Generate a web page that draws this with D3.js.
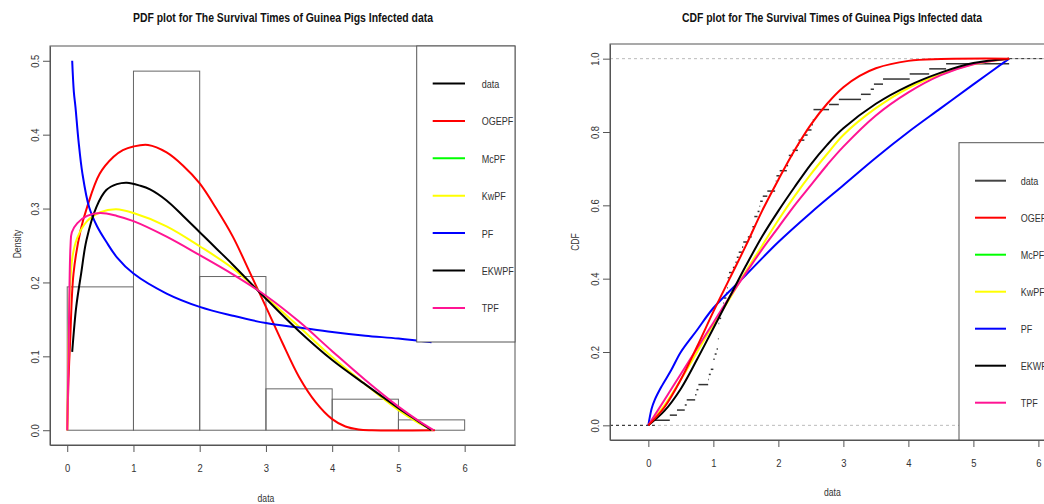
<!DOCTYPE html>
<html><head><meta charset="utf-8">
<script src="https://cdn.jsdelivr.net/npm/d3@7"></script>
<style>
body{margin:0;background:#fff;}
text{font-family:"Liberation Sans",Arial,sans-serif;}
</style></head>
<body><svg id="c" width="1044" height="504"></svg>
<script>
// ---------- data ----------
const titlePDF = "PDF plot for The Survival Times of Guinea Pigs Infected data";
const titleCDF = "CDF plot for The Survival Times of Guinea Pigs Infected data";
const legendNames = ["data","OGEPF","McPF","KwPF","PF","EKWPF","TPF"];
const legendColors = ["#000000","#ff0000","#00ff00","#ffff00","#0000ff","#000000","#ff1493"];
const xTicks = [0,1,2,3,4,5,6];
const yTicksPDF = [0,0.1,0.2,0.3,0.4,0.5];
const yTicksCDF = [0,0.2,0.4,0.6,0.8,1.0];

const histBreaks = [0,1,2,3,4,5,6];
const histDensity = [0.194,0.486,0.208,0.056,0.042,0.014];

// PDF curves [x, density]
const pdfOGEPF = [[0,0],[0.02,0.07],[0.045,0.122],[0.095,0.212],[0.2,0.27],[0.3,0.302],[0.49,0.347],[0.7,0.37],[0.84,0.379],[1.0,0.384],[1.22,0.386],[1.5,0.376],[1.75,0.358],[2.0,0.334],[2.25,0.30],[2.5,0.262],[2.75,0.215],[3.0,0.167],[3.25,0.118],[3.5,0.072],[3.75,0.038],[4.0,0.015],[4.2,0.005],[4.4,0.001],[4.6,0],[5.55,0]];
const pdfKwPF = [[0,0],[0.02,0.12],[0.04,0.19],[0.08,0.235],[0.15,0.26],[0.3,0.283],[0.5,0.295],[0.74,0.299],[1.0,0.294],[1.5,0.276],[2.0,0.249],[2.5,0.219],[3.0,0.18],[3.5,0.14],[4.0,0.099],[4.5,0.062],[5.0,0.027],[5.3,0.01],[5.52,0]];
const pdfPF = [[0.075,0.50],[0.1,0.458],[0.125,0.437],[0.17,0.392],[0.23,0.347],[0.33,0.302],[0.45,0.276],[0.59,0.255],[0.75,0.234],[1.0,0.212],[1.5,0.185],[2.0,0.167],[2.5,0.155],[3.0,0.145],[3.5,0.139],[4.0,0.133],[4.5,0.128],[5.0,0.124],[5.5,0.119]];
const pdfEKWPF = [[0.075,0.106],[0.136,0.167],[0.21,0.212],[0.29,0.257],[0.44,0.302],[0.59,0.325],[0.75,0.333],[0.9,0.335],[1.1,0.331],[1.25,0.326],[1.5,0.311],[1.75,0.29],[2.0,0.268],[2.25,0.246],[2.5,0.224],[3.0,0.178],[3.5,0.134],[4.0,0.095],[4.5,0.062],[5.0,0.030],[5.3,0.012],[5.5,0.0]];
const pdfTPF = [[0,0],[0.02,0.1],[0.05,0.25],[0.07,0.268],[0.15,0.28],[0.3,0.29],[0.5,0.294],[0.75,0.29],[1.0,0.283],[1.5,0.262],[2.0,0.237],[2.5,0.211],[3.0,0.182],[3.5,0.147],[4.0,0.107],[4.5,0.068],[5.0,0.032],[5.3,0.013],[5.53,0]];

// survival times (ECDF steps)
const survival = [0.1,0.33,0.44,0.56,0.59,0.72,0.74,0.77,0.92,0.93,0.96,1,1,1.02,1.05,1.07,1.07,1.08,1.08,1.08,1.09,1.12,1.13,1.15,1.16,1.2,1.21,1.22,1.22,1.24,1.3,1.34,1.36,1.39,1.44,1.46,1.53,1.59,1.6,1.63,1.63,1.68,1.71,1.72,1.76,1.83,1.95,1.96,1.97,2.02,2.13,2.15,2.16,2.22,2.3,2.31,2.4,2.45,2.51,2.53,2.54,2.54,2.78,2.93,3.27,3.42,3.47,3.61,4.02,4.32,4.58,5.55];

// CDF curves [x, F]
const cdfOGEPF = [[0,0],[0.25,0.05],[0.5,0.125],[0.75,0.215],[1.0,0.31],[1.25,0.40],[1.5,0.49],[1.75,0.585],[2.0,0.67],[2.25,0.75],[2.5,0.82],[2.75,0.877],[3.0,0.922],[3.25,0.953],[3.5,0.974],[4.0,0.994],[4.5,0.999],[5.55,1]];
const cdfKwPF = [[0,0],[0.25,0.055],[0.5,0.125],[0.75,0.2],[1.0,0.275],[1.25,0.345],[1.5,0.42],[1.75,0.49],[2.0,0.56],[2.25,0.625],[2.5,0.685],[2.75,0.74],[3.0,0.792],[3.5,0.865],[4.0,0.92],[4.5,0.958],[5.0,0.985],[5.55,1]];
const cdfPF = [[0,0],[0.05,0.045],[0.1,0.07],[0.2,0.105],[0.35,0.15],[0.5,0.20],[0.75,0.26],[1.0,0.32],[1.5,0.41],[2.0,0.50],[2.5,0.58],[3.0,0.655],[3.5,0.73],[4.0,0.80],[4.5,0.865],[5.0,0.93],[5.55,1.0]];
const cdfEKWPF = [[0,0],[0.25,0.04],[0.5,0.1],[0.75,0.18],[1.0,0.265],[1.25,0.35],[1.5,0.435],[1.75,0.515],[2.0,0.585],[2.25,0.65],[2.5,0.712],[2.75,0.765],[3.0,0.81],[3.5,0.877],[4.0,0.926],[4.5,0.962],[5.0,0.988],[5.55,1]];
const cdfTPF = [[0,0],[0.25,0.07],[0.5,0.14],[0.75,0.21],[1.0,0.28],[1.25,0.35],[1.5,0.415],[1.75,0.48],[2.0,0.54],[2.25,0.6],[2.5,0.655],[2.75,0.71],[3.0,0.76],[3.5,0.845],[4.0,0.908],[4.5,0.955],[5.0,0.985],[5.55,1]];

// ---------- drawing ----------
const svg = d3.select("#c");
svg.append("rect").attr("width",1044).attr("height",504).attr("fill","#fff");
const frameCol = "#555";
const textCol = "#333";
const NARROW = 0.82;

function narrow(sel, k){
  sel.each(function(){
    const w = this.getComputedTextLength();
    if (w > 0) d3.select(this).attr("textLength", w*k).attr("lengthAdjust","spacingAndGlyphs");
  });
}

function axes(g, x, y, yTicks, yFmt, fr, labs){
  g.append("rect").attr("x",fr.l).attr("y",fr.t).attr("width",fr.r-fr.l).attr("height",fr.b-fr.t)
   .attr("fill","none").attr("stroke",frameCol).attr("stroke-width",1);
  const xa = d3.axisBottom(x).tickValues(xTicks).tickFormat(d3.format("d")).tickSize(7).tickSizeOuter(0).tickPadding(labs.xpad);
  const gx = g.append("g").attr("transform",`translate(0,${fr.b})`).call(xa);
  gx.select(".domain").attr("stroke",frameCol);
  gx.selectAll(".tick line").attr("stroke",frameCol);
  gx.selectAll("text").attr("font-size",11.5).attr("fill",textCol).attr("font-family",null);
  narrow(gx.selectAll("text"), NARROW);
  const ya = d3.axisLeft(y).tickValues(yTicks).tickFormat(yFmt).tickSize(7).tickSizeOuter(0).tickPadding(0);
  const gy = g.append("g").attr("transform",`translate(${fr.l},0)`).call(ya);
  gy.select(".domain").attr("stroke",frameCol);
  gy.selectAll(".tick line").attr("stroke",frameCol);
  gy.selectAll("text").attr("font-size",11.5).attr("fill",textCol).attr("font-family",null)
    .attr("x",null).attr("dy","0.35em")
    .attr("text-anchor","middle")
    .attr("transform",`translate(${-labs.ypad},0) rotate(-90)`);
  narrow(gy.selectAll("text"), NARROW);
  const t = g.append("text").attr("x",labs.titleX).attr("y",21.5)
   .attr("text-anchor","middle").attr("font-weight","bold").attr("font-size",12.5).attr("fill","#111").text(labs.title);
  t.attr("textLength",300).attr("lengthAdjust","spacingAndGlyphs");
  const xl = g.append("text").attr("x",labs.xlabX).attr("y",labs.xlabY).attr("text-anchor","middle")
   .attr("font-size",10.5).attr("fill",textCol).text("data");
  narrow(xl, NARROW);
  const yl = g.append("text").attr("transform",`translate(${labs.ylabX},${labs.ylabY}) rotate(-90)`)
   .attr("dy","0.35em").attr("text-anchor","middle").attr("font-size",10.5).attr("fill",textCol).text(labs.ylab);
  narrow(yl, NARROW);
}

function legend(g, box, lineX1, lineX2, textX, ys, dataCol){
  g.append("rect").attr("x",box.x).attr("y",box.y).attr("width",box.w).attr("height",box.h)
   .attr("fill","#fff").attr("stroke",frameCol).attr("stroke-width",1);
  legendNames.forEach((n,i)=>{
    g.append("line").attr("x1",lineX1).attr("x2",lineX2).attr("y1",ys[i]).attr("y2",ys[i])
     .attr("stroke", i===0 ? dataCol : legendColors[i]).attr("stroke-width",2);
    const t = g.append("text").attr("x",textX).attr("y",ys[i]+4.5).attr("font-size",11).attr("fill",textCol).text(n);
    narrow(t, NARROW);
  });
}

// ----- PDF panel -----
const frL = {l:50, r:515, t:46, b:445};
const xL = d3.scaleLinear().domain([-0.26, 6.76]).range([frL.l, frL.r]);
const yL = d3.scaleLinear().domain([-0.02, 0.52]).range([frL.b, frL.t]);
const gL = svg.append("g");

histDensity.forEach((d,i)=>{
  gL.append("rect").attr("x",xL(histBreaks[i])).attr("y",yL(d))
    .attr("width",xL(histBreaks[i+1])-xL(histBreaks[i])).attr("height",yL(0)-yL(d))
    .attr("fill","none").attr("stroke","#666").attr("stroke-width",1);
});
const lineL = d3.line().x(d=>xL(d[0])).y(d=>yL(Math.max(0,d[1]))).curve(d3.curveCatmullRom.alpha(0.5));
[[pdfOGEPF,"#ff0000"],[pdfKwPF,"#ffff00"],[pdfPF,"#0000ff"],[pdfEKWPF,"#000000"],[pdfTPF,"#ff1493"]].forEach(([dat,c])=>{
  gL.append("path").attr("d",lineL(dat)).attr("fill","none").attr("stroke",c).attr("stroke-width",2);
});
axes(gL, xL, yL, yTicksPDF, d3.format(".1f"), frL,
  {title:titlePDF, titleX:283, xpad:12, ypad:15, xlabX:xL(3), xlabY:502, ylabX:17, ylabY:244, ylab:"Density"});
const ysL = legendNames.map((n,i)=>83.5+i*37.4);
legend(gL, {x:416.7, y:46, w:frL.r-416.7, h:296}, 432.7, 465, 481.7, ysL, "#000");

// ----- CDF panel -----
const frR = {l:610, r:1054, t:44, b:440};
const xR = d3.scaleLinear().domain([-0.59, 6.24]).range([frR.l, frR.r]);
const yR = d3.scaleLinear().domain([-0.04, 1.04]).range([frR.b, frR.t]);
const gR = svg.append("g");

[0,1].forEach(v=>{
  gR.append("line").attr("x1",frR.l).attr("x2",frR.r).attr("y1",yR(v)).attr("y2",yR(v))
    .attr("stroke","#bbb").attr("stroke-width",1).attr("stroke-dasharray","3,3");
});
const sorted = survival.slice().sort((a,b)=>a-b);
const n = sorted.length;
gR.append("line").attr("x1",frR.l).attr("x2",xR(sorted[0])).attr("y1",yR(0)).attr("y2",yR(0))
  .attr("stroke","#222").attr("stroke-width",1).attr("stroke-dasharray","3,3");
gR.append("line").attr("x1",xR(sorted[n-1])).attr("x2",frR.r).attr("y1",yR(1)).attr("y2",yR(1))
  .attr("stroke","#222").attr("stroke-width",1).attr("stroke-dasharray","3,3");
for(let i=0;i<n-1;i++){
  if(sorted[i+1]>sorted[i]){
    gR.append("line").attr("x1",xR(sorted[i])).attr("x2",xR(sorted[i+1]))
      .attr("y1",yR((i+1)/n)).attr("y2",yR((i+1)/n)).attr("stroke","#333").attr("stroke-width",1.5);
  }
}
const lineR = d3.line().x(d=>xR(d[0])).y(d=>yR(d[1])).curve(d3.curveCatmullRom.alpha(0.5));
[[cdfPF,"#0000ff"],[cdfKwPF,"#ffff00"],[cdfTPF,"#ff1493"],[cdfEKWPF,"#000000"],[cdfOGEPF,"#ff0000"]].forEach(([dat,c])=>{
  gR.append("path").attr("d",lineR(dat)).attr("fill","none").attr("stroke",c).attr("stroke-width",2);
});
axes(gR, xR, yR, yTicksCDF, d3.format(".1f"), frR,
  {title:titleCDF, titleX:832, xpad:12, ypad:15, xlabX:xR(2.83), xlabY:495.5, ylabX:575, ylabY:242, ylab:"CDF"});
const ysR = legendNames.map((n,i)=>180.7+i*37);
legend(gR, {x:959, y:142.7, w:frR.r-959, h:frR.b-142.7}, 975, 1006, 1020.7, ysR, "#444");
</script></body></html>
